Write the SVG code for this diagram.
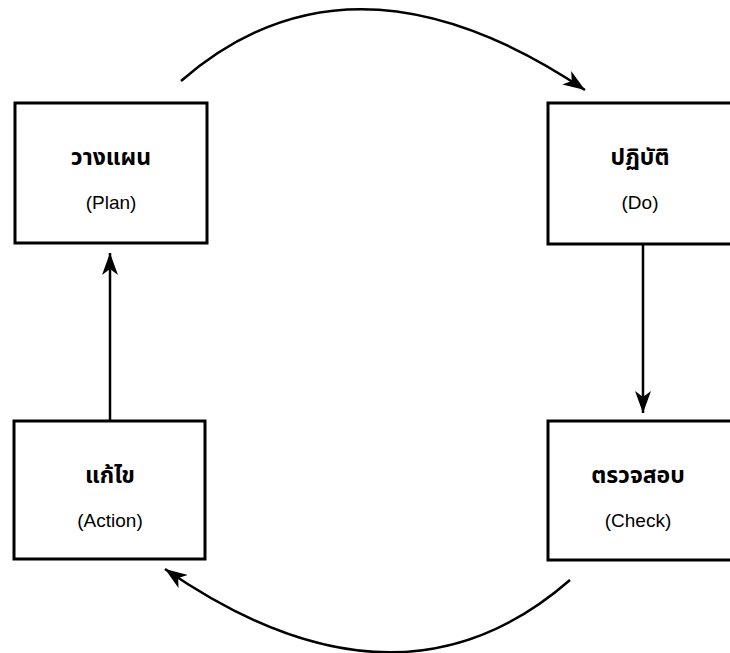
<svg xmlns="http://www.w3.org/2000/svg" width="730" height="653" viewBox="0 0 730 653">
<style>
.box{fill:#fff;stroke:#000;stroke-width:3}
.th{font-family:"Noto Sans Thai","Noto Sans","DejaVu Sans",sans-serif;font-size:23px;font-weight:bold;text-anchor:middle;fill:#000}
.en{font-family:"Liberation Sans","DejaVu Sans",sans-serif;font-size:19px;text-anchor:middle;fill:#000}
.conn{fill:none;stroke:#000;stroke-width:2.5}
</style>
<defs>
<marker id="ah" viewBox="0 0 22 16" refX="22" refY="8" markerWidth="22" markerHeight="16" markerUnits="userSpaceOnUse" orient="auto">
<path d="M0,0 L22,8 L0,16 L6,8 Z" fill="#000"/>
</marker>
</defs>
<rect width="730" height="653" fill="#fff"/>
<g id="connectors">
<path class="conn" d="M181,81 Q351,-67 585,90" marker-end="url(#ah)"/>
<path class="conn" d="M643,244 L643,413" marker-end="url(#ah)"/>
<path class="conn" d="M570,580 Q398,730 165,569" marker-end="url(#ah)"/>
<path class="conn" d="M110,421 L110,253" marker-end="url(#ah)"/>
</g>
<g id="plan">
<rect class="box" x="15" y="103" width="192" height="140"/>
<text class="th" x="111" y="165">วางแผน</text>
<text class="en" x="111" y="209">(Plan)</text>
</g>
<g id="do">
<rect class="box" x="548" y="103" width="192" height="141"/>
<text class="th" x="640" y="165">ปฏิบัติ</text>
<text class="en" x="640" y="209">(Do)</text>
</g>
<g id="action">
<rect class="box" x="14" y="421" width="191" height="138"/>
<text class="th" x="110" y="483">แก้ไข</text>
<text class="en" x="110" y="527">(Action)</text>
</g>
<g id="check">
<rect class="box" x="548" y="421" width="192" height="139"/>
<text class="th" x="638" y="483">ตรวจสอบ</text>
<text class="en" x="638" y="527">(Check)</text>
</g>
</svg>
